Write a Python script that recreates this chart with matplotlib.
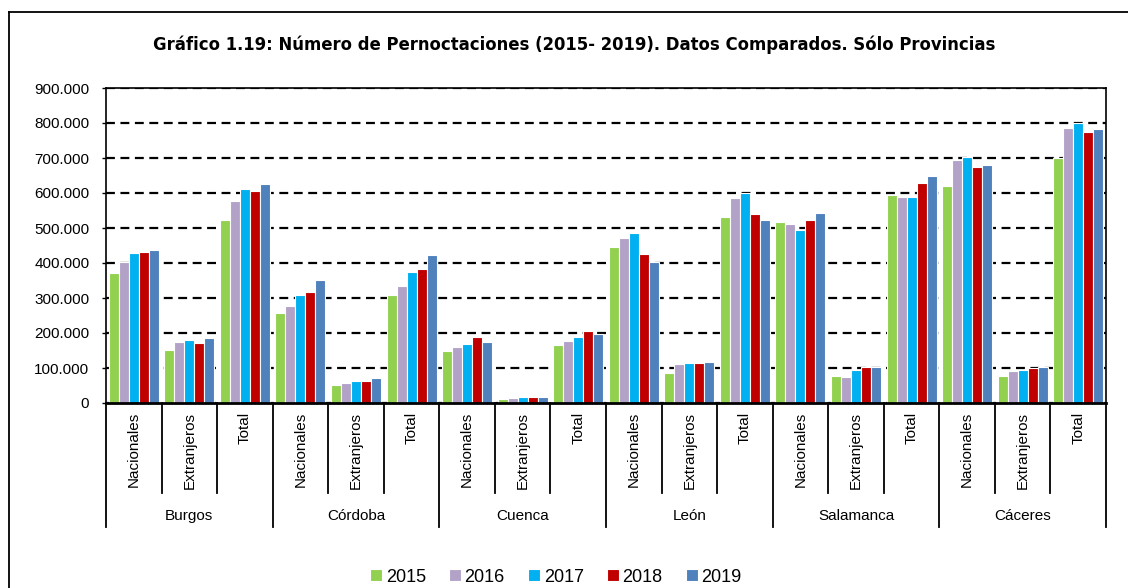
import matplotlib
matplotlib.use("Agg")
import matplotlib.pyplot as plt
from matplotlib.lines import Line2D
from matplotlib.ticker import FuncFormatter
import numpy as np

provinces = ["Burgos", "Córdoba", "Cuenca", "León", "Salamanca", "Cáceres"]
subcats = ["Nacionales", "Extranjeros", "Total"]
years = ["2015", "2016", "2017", "2018", "2019"]
colors = ["#92D050", "#B3A2C7", "#00B0F0", "#C00000", "#4F81BD"]

# values per year, in order province x subcategory (thousands)
v2015 = [371, 151, 524, 257, 51, 310, 150, 12, 166, 445, 85, 531, 517, 77, 594, 620, 77, 700]
v2016 = [404, 173, 578, 277, 56, 334, 161, 14, 176, 472, 112, 585, 512, 75, 589, 693, 92, 786]
v2017 = [430, 180, 611, 308, 64, 373, 169, 16, 188, 485, 114, 599, 495, 94, 589, 704, 94, 800]
v2018 = [432, 172, 605, 317, 64, 383, 189, 16, 206, 426, 113, 540, 524, 103, 629, 673, 100, 774]
v2019 = [437, 186, 625, 351, 72, 424, 175, 18, 196, 404, 117, 522, 543, 104, 648, 679, 102, 783]
series = [v2015, v2016, v2017, v2018, v2019]

yticks = [0, 100000, 200000, 300000, 400000, 500000, 600000, 700000, 800000, 900000]

narrow = ["Liberation Sans", "DejaVu Sans"]

W, H = 1128, 588
fig = plt.figure(figsize=(W / 100, H / 100), dpi=100)
fig.patch.set_facecolor("white")

L, R, T, B = 106, 1106, 88, 403
ax = fig.add_axes([L / W, 1 - B / H, (R - L) / W, (B - T) / H])

n = len(v2015)
x = np.arange(n)
bw = 0.18
for i, (vals, c, yr) in enumerate(zip(series, colors, years)):
    ax.bar(x + (i - 2) * bw, np.array(vals) * 1000, width=bw, color=c,
           edgecolor="white", linewidth=0.8, label=yr, zorder=3)

ax.set_xlim(-0.5, n - 0.5)
ax.set_ylim(0, 900000)
ax.set_yticks(yticks)
ax.yaxis.set_major_formatter(FuncFormatter(lambda v, p: f"{int(v):,}".replace(",", ".")))
for lab in ax.get_yticklabels():
    lab.set_family(narrow)
    lab.set_fontsize(11)
ax.tick_params(axis="y", direction="out", length=3, width=1, pad=9, color="black")
ax.set_xticks([])
ax.grid(axis="y", color="black", linestyle=(0, (4, 2.5)), linewidth=1.6, zorder=1)
for s in ax.spines.values():
    s.set_color("black")
    s.set_linewidth(1.2)
ax.spines["bottom"].set_linewidth(2)
ax.spines["bottom"].set_zorder(4)

tr = ax.get_xaxis_transform()
axh = B - T
y_sub = -(493 - B) / axh
y_grp = -(527 - B) / axh
# separators
for k in range(n + 1):
    xb = k - 0.5
    ybot = y_grp if k % 3 == 0 else y_sub
    ax.add_line(Line2D([xb, xb], [0, ybot], transform=tr, color="black",
                       linewidth=1.3, clip_on=False))
# sub-category labels
for k in range(n):
    ax.text(k, -(412 - B) / axh, subcats[k % 3], transform=tr, rotation=90,
            ha="center", va="top", fontsize=11, family=narrow)
# group labels
for g, p in enumerate(provinces):
    ax.text(3 * g + 1, -(516 - B) / axh, p, transform=tr, ha="center",
            va="center", fontsize=11, family=narrow)

fig.text(574 / W, 1 - 45 / H,
         "Gráfico 1.19: Número de Pernoctaciones (2015- 2019). Datos Comparados. Sólo Provincias",
         ha="center", va="center", fontsize=11.9, fontweight="bold")

leg = fig.legend(loc="center", bbox_to_anchor=(556 / W, 1 - 577 / H), ncol=5,
                 frameon=False, handlelength=0.65, handleheight=0.65,
                 handletextpad=0.2, columnspacing=1.3,
                 prop={"family": narrow, "size": 13})

# outer chart border (top and left visible)
fig.add_artist(Line2D([9 / W, 9 / W], [0, 1 - 12 / H], transform=fig.transFigure,
                      color="black", linewidth=1.3))
fig.add_artist(Line2D([9 / W, 1], [1 - 12 / H, 1 - 12 / H], transform=fig.transFigure,
                      color="black", linewidth=1.3))

fig.savefig("out.png", dpi=100, facecolor="white")
